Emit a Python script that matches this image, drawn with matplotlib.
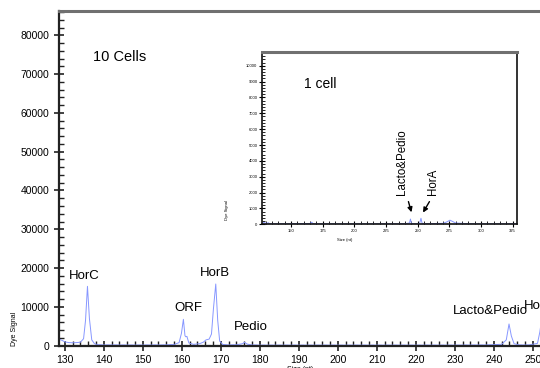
import matplotlib
matplotlib.use('Agg')
import matplotlib.pyplot as plt
from matplotlib.ticker import MultipleLocator

plt.rcParams['font.family'] = ['Liberation Sans', 'DejaVu Sans']

# 10 cells trace (size in nt, dye signal)
size_10 = [128.5, 129.2, 130, 131, 132, 133, 134, 134.8, 135.3, 135.8, 136.3, 136.9, 137.6, 138.5,
           140, 145, 150, 155, 158, 159.3, 159.9, 160.4, 160.8, 161.0, 161.3, 161.8, 163, 164.5,
           165.5, 166.2, 167.0, 167.6, 168.1, 168.7, 169.2, 169.7, 170.5, 172, 174, 175.5, 176.1,
           176.8, 178, 180, 190, 200, 210, 220, 230, 238, 242, 243.2, 243.9, 244.5, 245.2, 246.5,
           249, 251.2, 251.8, 252.4, 253.0, 253.8, 255, 258]
signal_10 = [1700, 1400, 1000, 800, 750, 800, 900, 1800, 6500, 15300, 7000, 1500, 500, 250,
             200, 180, 170, 200, 300, 800, 3200, 6800, 2600, 2300, 2400, 700, 350, 500,
             900, 1500, 1700, 3000, 9500, 15900, 6500, 1200, 300, 200, 250, 500, 850,
             400, 200, 150, 150, 150, 150, 150, 150, 200, 350, 1500, 5600, 2500, 500, 200,
             200, 600, 3500, 7800, 5000, 800, 300, 200]

# 1 cell trace
size_1 = [127.3, 128.5, 129.5, 131, 132, 133, 135, 150, 165, 166.3, 167.5, 180, 200, 220, 240,
          243.5, 244.3, 245, 247, 251.5, 252.6, 253.5, 256, 270, 273, 275.5, 277.5, 280, 285,
          290, 300, 320, 328]
signal_1 = [50, 120, 80, 60, 100, 40, 30, 40, 50, 130, 40, 30, 30, 30, 40,
            80, 330, 60, 30, 50, 380, 60, 40, 60, 150, 260, 180, 80, 60,
            40, 30, 30, 30]

peak_labels_10 = ['HorC', 'ORF', 'HorB', 'Pedio', 'Lacto&Pedio', 'HorA']
label_pos_10 = [(131.1, 17900), (158.0, 9700), (164.7, 18700), (173.4, 4700), (229.4, 9000), (247.8, 10200)]

trace_color = '#8797ff'
narrow = ['Liberation Sans Narrow', 'Liberation Sans', 'DejaVu Sans']

fig = plt.figure(figsize=(5.4, 3.68), dpi=100)

# main axes (extends past right edge like the cropped original)
ax = fig.add_axes([59 / 540, 22.3 / 368, 505 / 540, 334.7 / 368])
ax.plot(size_10, signal_10, color=trace_color, lw=0.7)
ax.plot([128.5, 258], [120, 120], color='#2233cc', lw=0.8, ls=(0, (3, 4)))
ax.set_xlim(128.5, 258)
ax.set_ylim(0, 86260)
ax.xaxis.set_major_locator(MultipleLocator(10))
ax.xaxis.set_minor_locator(MultipleLocator(2))
ax.yaxis.set_major_locator(MultipleLocator(10000))
ax.yaxis.set_minor_locator(MultipleLocator(2000))
ax.tick_params(axis='both', which='major', direction='inout', length=7, width=1.2, color='#222222')
ax.tick_params(axis='both', which='minor', direction='in', length=3.5, width=1.0, color='#222222')
ax.tick_params(top=False, right=False, which='both')
for lab in ax.get_xticklabels() + ax.get_yticklabels():
    lab.set_family(narrow)
    lab.set_fontsize(7.5)
ax.spines['right'].set_visible(False)
ax.spines['left'].set_linewidth(1.6)
ax.spines['left'].set_color('#222222')
ax.spines['bottom'].set_linewidth(1.6)
ax.spines['bottom'].set_color('#222222')
ax.spines['top'].set_linewidth(2.2)
ax.spines['top'].set_color('#707070')
ax.set_xlabel('Size (nt)', fontsize=5)
ax.xaxis.set_label_coords(0.477, -0.062)
ax.set_ylabel('Dye Signal', fontsize=5)
ax.yaxis.set_label_coords(-0.081, 0.05)

ax.text(137.2, 74400, '10 Cells', fontsize=10.5, ha='left', va='center')
for name, (lx, ly) in zip(peak_labels_10, label_pos_10):
    ax.text(lx, ly, name, fontsize=9.5, ha='left', va='center', clip_on=False)

# inset: 1 cell
ins = fig.add_axes([262.3 / 540, (368 - 224.3) / 368, 254.4 / 540, 172 / 368])
ins.plot(size_1, signal_1, color=trace_color, lw=0.7)
ins.set_xlim(127.3, 328.2)
ins.set_ylim(0, 10845)
ins.xaxis.set_major_locator(MultipleLocator(25))
ins.xaxis.set_minor_locator(MultipleLocator(5))
ins.yaxis.set_major_locator(MultipleLocator(1000))
ins.yaxis.set_minor_locator(MultipleLocator(200))
ins.tick_params(axis='both', which='major', direction='inout', length=4, width=0.8, labelsize=3, pad=1.5)
ins.tick_params(axis='both', which='minor', direction='in', length=2, width=0.6)
ins.tick_params(top=False, right=False, which='both')
for side in ['left', 'bottom', 'right']:
    ins.spines[side].set_linewidth(1.2)
    ins.spines[side].set_color('#111111')
ins.spines['top'].set_linewidth(2.2)
ins.spines['top'].set_color('#707070')
ins.set_xlabel('Size (nt)', fontsize=3)
ins.xaxis.set_label_coords(0.325, -0.08)
ins.set_ylabel('Dye Signal', fontsize=3)
ins.yaxis.set_label_coords(-0.13, 0.083)

ins.text(160.3, 8830, '1 cell', fontsize=10, ha='left', va='center')
ins.text(237.6, 1850, 'Lacto&Pedio', fontsize=8.3, rotation=90, ha='center', va='bottom')
ins.text(262.0, 1850, 'HorA', fontsize=8.3, rotation=90, ha='center', va='bottom')
ins.annotate('', xy=(245.7, 590), xytext=(242.1, 1600),
             arrowprops=dict(arrowstyle='-|>', color='black', lw=1.0, mutation_scale=7))
ins.annotate('', xy=(253.1, 590), xytext=(260.4, 1580),
             arrowprops=dict(arrowstyle='-|>', color='black', lw=1.0, mutation_scale=7))

fig.savefig('out.png', dpi=100)
